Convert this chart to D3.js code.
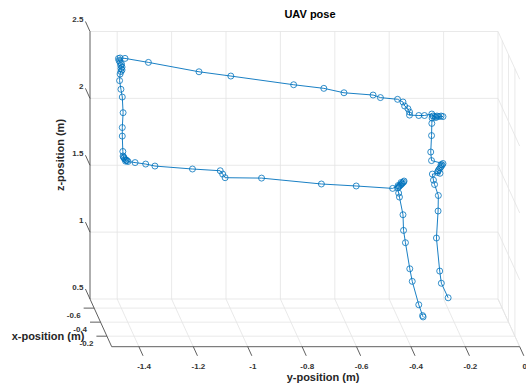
<!DOCTYPE html>
<html>
<head>
<meta charset="utf-8">
<script src="https://cdn.jsdelivr.net/npm/d3@7"></script>
<style>
  body { margin: 0; background: #fff; }
  text { font-family: "Liberation Sans", Arial, sans-serif; }
</style>
</head>
<body>
<div id="chart"></div>
<script>
// UAV trajectory (m); depth (x) assumed constant
const ys = [-0.314,-0.316,-0.330,-0.354,-0.363,-0.379,-0.386,-0.388,-0.401,-0.404,
  -0.408,-0.404,-0.401,-0.397,-0.393,-0.390,-0.386,-0.384,-0.395,-0.406,
  -0.426,-0.560,-0.688,-0.908,-1.042,-1.051,-1.060,-1.162,-1.300,-1.334,
  -1.373,-1.399,-1.403,-1.406,-1.410,-1.414,-1.415,-1.408,-1.417,-1.418,
  -1.420,-1.420,-1.417,-1.420,-1.425,-1.430,-1.428,-1.425,-1.421,-1.425,
  -1.421,-1.426,-1.423,-1.428,-1.432,-1.434,-1.428,-1.410,-1.324,-1.138,
  -1.021,-0.790,-0.679,-0.605,-0.498,-0.471,-0.408,-0.388,-0.382,-0.370,
  -0.364,-0.364,-0.330,-0.309,-0.282,-0.278,-0.270,-0.263,-0.256,-0.248,
  -0.241,-0.267,-0.281,-0.282,-0.283,-0.286,-0.283,-0.241,-0.248,-0.244,
  -0.248,-0.252,-0.256,-0.259,-0.261,-0.252,-0.280,-0.276,-0.272,-0.258,
  -0.259,-0.265,-0.253,-0.247,-0.222]
const zs = [0.539,0.549,0.630,0.805,0.899,1.094,1.186,1.303,1.435,1.465,
  1.503,1.510,1.518,1.525,1.533,1.540,1.547,1.555,1.544,1.521,
  1.500,1.518,1.533,1.577,1.580,1.607,1.632,1.645,1.667,1.682,
  1.693,1.701,1.708,1.712,1.719,1.727,1.734,1.704,1.742,1.776,
  1.891,1.955,2.066,2.183,2.241,2.306,2.355,2.374,2.385,2.396,
  2.407,2.419,2.430,2.441,2.456,2.471,2.475,2.472,2.442,2.372,
  2.340,2.275,2.248,2.215,2.198,2.179,2.166,2.146,2.116,2.096,
  2.071,2.048,2.045,2.045,2.056,2.041,2.037,2.041,2.037,2.041,
  2.037,2.030,2.026,1.986,1.895,1.772,1.708,1.686,1.678,1.675,
  1.663,1.652,1.641,1.630,1.619,1.613,1.607,1.562,1.529,1.447,
  1.331,1.129,0.882,0.791,0.682]
const xs = [-0.4,-0.4,-0.4,-0.4,-0.4,-0.4,-0.4,-0.4,-0.4,-0.4,
  -0.4,-0.4,-0.4,-0.4,-0.4,-0.4,-0.4,-0.4,-0.4,-0.4,
  -0.4,-0.4,-0.4,-0.4,-0.4,-0.4,-0.4,-0.4,-0.4,-0.4,
  -0.4,-0.4,-0.4,-0.4,-0.4,-0.4,-0.4,-0.4,-0.4,-0.4,
  -0.4,-0.4,-0.4,-0.4,-0.4,-0.4,-0.4,-0.4,-0.4,-0.4,
  -0.4,-0.4,-0.4,-0.4,-0.4,-0.4,-0.4,-0.4,-0.4,-0.4,
  -0.4,-0.4,-0.4,-0.4,-0.4,-0.4,-0.4,-0.4,-0.4,-0.4,
  -0.4,-0.4,-0.4,-0.4,-0.4,-0.4,-0.4,-0.4,-0.4,-0.4,
  -0.4,-0.4,-0.4,-0.4,-0.4,-0.4,-0.4,-0.4,-0.4,-0.4,
  -0.4,-0.4,-0.4,-0.4,-0.4,-0.4,-0.4,-0.4,-0.4,-0.4,
  -0.4,-0.4,-0.4,-0.4,-0.4]

const xTicks = [-0.6, -0.4, -0.2]
const yTicks = [-1.4, -1.2, -1, -0.8, -0.6, -0.4, -0.2, 0]
const zTicks = [0.5, 1, 1.5, 2, 2.5]

const xLim = [-0.73, -0.05], yLim = [-1.5, 0], zLim = [0.5, 2.5]

let width = 526, height = 384

let svg = d3.select("#chart").append("svg")
  .attr("width", width)
  .attr("height", height)

// oblique view: y -> right, z -> up, x -> depth (down-right)
let yS = d3.scaleLinear().domain(yLim).range([90, 498])
let zS = d3.scaleLinear().domain(zLim).range([299, 31.5])
let tS = d3.scaleLinear().domain(xLim).range([0, 1])
let depth = [21.7, 47.7]

function proj(x, y, z) {
  let t = tS(x)
  return [yS(y) + depth[0] * t, zS(z) + depth[1] * t]
}

let dlen = Math.hypot(depth[0], depth[1])
let du = [depth[0] / dlen, depth[1] / dlen]

let grid = svg.append("g")
  .attr("stroke", "#e3e3e3")
  .attr("stroke-width", 0.8)
  .attr("fill", "none")

function seg(g, a, b) {
  g.append("line")
    .attr("x1", a[0]).attr("y1", a[1])
    .attr("x2", b[0]).attr("y2", b[1])
}

// back wall
zTicks.forEach(z => seg(grid, proj(xLim[0], yLim[0], z), proj(xLim[0], yLim[1], z)))
yTicks.forEach(y => seg(grid, proj(xLim[0], y, zLim[0]), proj(xLim[0], y, zLim[1])))
// floor
yTicks.forEach(y => seg(grid, proj(xLim[0], y, zLim[0]), proj(xLim[1], y, zLim[0])))
xTicks.forEach(x => seg(grid, proj(x, yLim[0], zLim[0]), proj(x, yLim[1], zLim[0])))
// side wall at y = 0
zTicks.forEach(z => seg(grid, proj(xLim[0], yLim[1], z), proj(xLim[1], yLim[1], z)))
xTicks.forEach(x => seg(grid, proj(x, yLim[1], zLim[0]), proj(x, yLim[1], zLim[1])))

// axis lines
let ax = svg.append("g")
  .attr("stroke", "#4d4d4d")
  .attr("stroke-width", 0.9)
  .attr("fill", "none")
seg(ax, proj(xLim[0], yLim[0], zLim[0]), proj(xLim[0], yLim[0], zLim[1]))
seg(ax, proj(xLim[0], yLim[0], zLim[0]), proj(xLim[1], yLim[0], zLim[0]))
seg(ax, proj(xLim[1], yLim[0], zLim[0]), proj(xLim[1], yLim[1], zLim[0]))

let labels = svg.append("g")
  .attr("font-size", "8px")
  .attr("font-weight", "bold")
  .attr("fill", "#333")

// z ticks
zTicks.forEach(z => {
  let p = proj(xLim[0], yLim[0], z)
  let e = [p[0] - 11 * du[0], p[1] - 11 * du[1]]
  seg(ax, p, e)
  labels.append("text")
    .attr("x", e[0] - 2).attr("y", e[1] + 1)
    .attr("text-anchor", "end")
    .text(String(z))
})
// x ticks
xTicks.forEach(x => {
  let p = proj(x, yLim[0], zLim[0])
  let e = [p[0] - 10.5, p[1]]
  seg(ax, p, e)
  labels.append("text")
    .attr("x", e[0] - 3).attr("y", e[1] + 9.5)
    .attr("text-anchor", "end")
    .text(String(x))
})
// y ticks
yTicks.forEach(y => {
  let p = proj(xLim[1], y, zLim[0])
  let e = [p[0] + 10 * du[0], p[1] + 10 * du[1]]
  seg(ax, p, e)
  labels.append("text")
    .attr("x", e[0] + 1).attr("y", e[1] + 13)
    .attr("text-anchor", "middle")
    .text(String(y))
})

// trajectory
let pts = ys.map((y, i) => proj(xs[i], y, zs[i]))

svg.append("path")
  .attr("d", d3.line()(pts))
  .attr("fill", "none")
  .attr("stroke", "#0072BD")
  .attr("stroke-width", 0.9)

svg.append("g").selectAll("circle")
  .data(pts)
  .enter()
  .append("circle")
    .attr("cx", d => d[0])
    .attr("cy", d => d[1])
    .attr("r", 3)
    .attr("fill", "none")
    .attr("stroke", "#0072BD")
    .attr("stroke-width", 0.8)

// titles
svg.append("text")
  .attr("x", 310).attr("y", 18)
  .attr("text-anchor", "middle")
  .attr("font-size", "11px")
  .attr("font-weight", "bold")
  .text("UAV pose")

svg.append("text")
  .attr("x", 323).attr("y", 381)
  .attr("text-anchor", "middle")
  .attr("font-size", "11px")
  .attr("font-weight", "bold")
  .attr("fill", "#262626")
  .text("y-position (m)")

svg.append("text")
  .attr("x", 48).attr("y", 340)
  .attr("text-anchor", "middle")
  .attr("font-size", "11px")
  .attr("font-weight", "bold")
  .attr("fill", "#262626")
  .text("x-position (m)")

svg.append("text")
  .attr("transform", "translate(64,155) rotate(-90)")
  .attr("text-anchor", "middle")
  .attr("font-size", "11px")
  .attr("font-weight", "bold")
  .attr("fill", "#262626")
  .text("z-position (m)")
</script>
</body>
</html>
